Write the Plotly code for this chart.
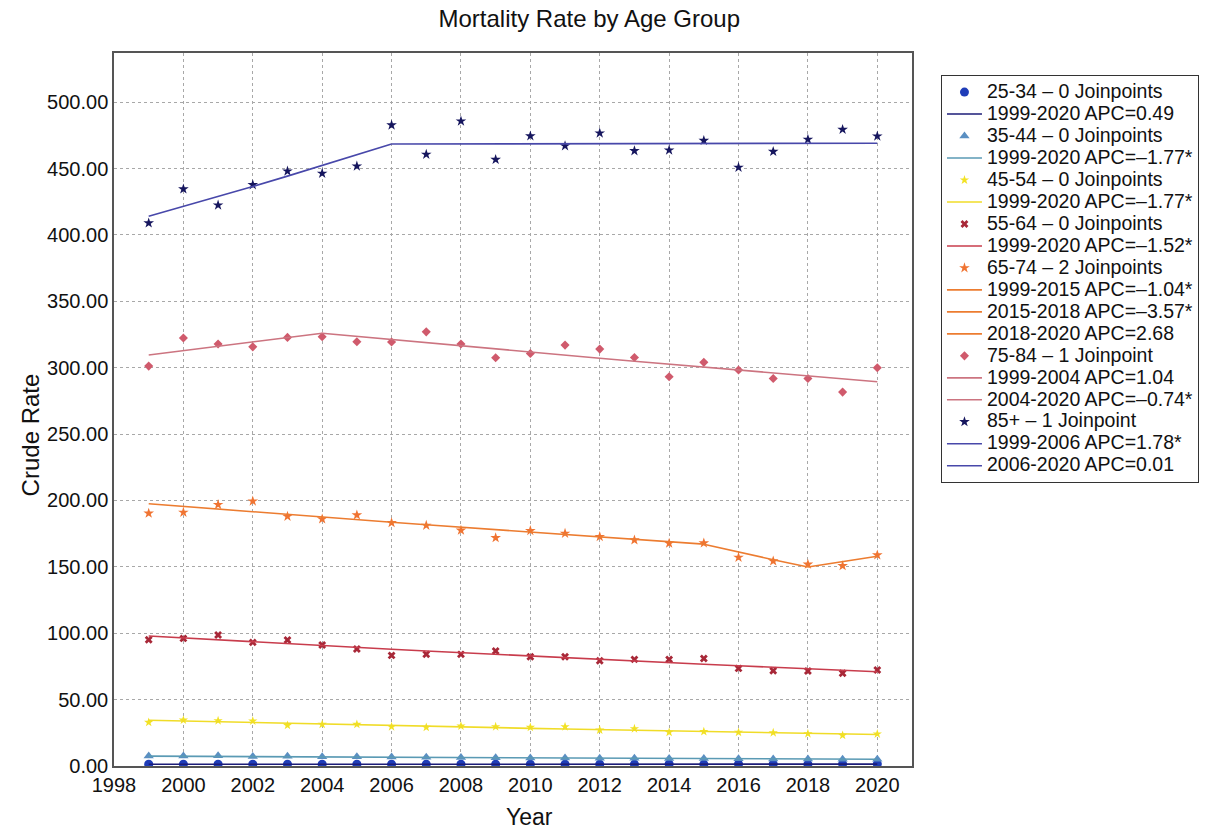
import plotly.graph_objects as go

# ---- observed crude mortality rates by age group ----
years = list(range(1999, 2021))

rate_25_34 = [1.3, 1.4, 1.3, 1.3, 1.4, 1.3, 1.3, 1.4, 1.4, 1.3, 1.4,
              1.4, 1.4, 1.4, 1.4, 1.5, 1.4, 1.5, 1.5, 1.4, 1.5, 1.5]
rate_35_44 = [7.6, 7.5, 7.7, 7.2, 7.3, 7.0, 6.9, 6.7, 6.5, 6.4, 6.2,
              6.1, 6.0, 5.8, 5.9, 5.6, 5.6, 5.4, 5.3, 5.2, 5.1, 5.0]
rate_45_54 = [32.9, 34.6, 34.1, 33.9, 30.6, 31.4, 31.4, 29.6, 29.1, 30.1, 29.6,
              29.1, 29.6, 27.1, 28.1, 25.4, 25.9, 25.4, 25.1, 24.3, 23.1, 24.1]
rate_55_64 = [95.1, 96.1, 98.6, 93.1, 94.9, 91.1, 88.1, 83.3, 84.1, 84.1, 86.6,
              82.3, 82.3, 79.3, 80.3, 80.3, 81.0, 73.5, 71.8, 71.5, 69.8, 72.3]
rate_65_74 = [190.3, 191.0, 196.8, 199.5, 188.0, 186.0, 189.0, 183.2, 181.2, 177.5, 171.9,
              177.2, 175.2, 172.7, 170.2, 167.7, 167.9, 157.1, 154.4, 151.9, 150.8, 158.9]
rate_75_84 = [301.2, 322.3, 317.8, 315.7, 322.8, 323.3, 319.5, 319.3, 327.0, 317.8, 307.5,
              310.7, 317.0, 314.0, 307.7, 293.2, 304.0, 298.2, 291.9, 291.9, 281.6, 300.0]
rate_85p = [408.9, 434.5, 422.4, 437.7, 448.0, 446.3, 451.8, 482.7, 460.6, 485.7, 456.8,
            474.5, 467.0, 476.6, 463.3, 463.8, 471.1, 450.8, 462.8, 471.9, 479.4, 474.4]

# ---- joinpoint fits: fitted 1999 value plus segments (start, end, APC) ----
fit0_25_34 = 1.3
seg_25_34 = [(1999, 2020, 0.49, "1999-2020 APC=0.49")]
fit0_35_44 = 7.4
seg_35_44 = [(1999, 2020, -1.77, "1999-2020 APC=–1.77*")]
fit0_45_54 = 34.5
seg_45_54 = [(1999, 2020, -1.77, "1999-2020 APC=–1.77*")]
fit0_55_64 = 97.9
seg_55_64 = [(1999, 2020, -1.52, "1999-2020 APC=–1.52*")]
fit0_65_74 = 197.5
seg_65_74 = [(1999, 2015, -1.04, "1999-2015 APC=–1.04*"),
             (2015, 2018, -3.57, "2015-2018 APC=–3.57*"),
             (2018, 2020, 2.68, "2018-2020 APC=2.68")]
fit0_75_84 = 309.5
seg_75_84 = [(1999, 2004, 1.04, "1999-2004 APC=1.04"),
             (2004, 2020, -0.74, "2004-2020 APC=–0.74*")]
fit0_85p = 414.0
seg_85p = [(1999, 2006, 1.78, "1999-2006 APC=1.78*"),
           (2006, 2020, 0.01, "2006-2020 APC=0.01")]

groups = [
    ("25-34 – 0 Joinpoints", rate_25_34, fit0_25_34, seg_25_34,
     dict(symbol="circle", size=9, color="#1f3db8"), "#1c1c78"),
    ("35-44 – 0 Joinpoints", rate_35_44, fit0_35_44, seg_35_44,
     dict(symbol="triangle-up", size=9, color="#5a8fc2"), "#5a9ab4"),
    ("45-54 – 0 Joinpoints", rate_45_54, fit0_45_54, seg_45_54,
     dict(symbol="star", size=7, color="#f2e224"), "#f0dc28"),
    ("55-64 – 0 Joinpoints", rate_55_64, fit0_55_64, seg_55_64,
     dict(symbol="x", size=7, color="#a82838"), "#c83c4c"),
    ("65-74 – 2 Joinpoints", rate_65_74, fit0_65_74, seg_65_74,
     dict(symbol="star", size=8, color="#f07432"), "#ec7c30"),
    ("75-84 – 1 Joinpoint", rate_75_84, fit0_75_84, seg_75_84,
     dict(symbol="diamond", size=7, color="#d05a6c"), "#cc7480"),
    ("85+ – 1 Joinpoint", rate_85p, fit0_85p, seg_85p,
     dict(symbol="star", size=8, color="#16165e"), "#4848aa"),
]


def fitted(v0, segments, start, end):
    """Log-linear joinpoint fit evaluated on whole years from start to end."""
    out_x, out_y = [], []
    value = v0
    for s, e, apc, _ in segments:
        for yr in range(s, e + 1):
            if yr > s:
                value *= 1 + apc / 100.0
            if start <= yr <= end and (not out_x or out_x[-1] != yr):
                out_x.append(yr)
                out_y.append(value)
    return out_x, out_y


def legend_label(text):
    # larger glyphs than the legend's base size, which keeps rows compact
    return '<span style="font-size:19.5px">' + text + "</span>"


fig = go.Figure()
for name, rates, v0, segs, mk, lcol in groups:
    fig.add_trace(go.Scatter(x=years, y=rates, mode="markers",
                             name=legend_label(name), marker=mk))
    for s, e, apc, label in segs:
        fx, fy = fitted(v0, segs, s, e)
        fig.add_trace(go.Scatter(x=fx, y=fy, mode="lines",
                                 name=legend_label(label),
                                 line=dict(color=lcol, width=1.6)))

font_family = "Liberation Sans, Arial, Helvetica, sans-serif"

fig.update_layout(
    width=1205, height=829,
    margin=dict(l=114, r=293, t=53, b=63, autoexpand=False),
    paper_bgcolor="white", plot_bgcolor="white",
    font=dict(family=font_family, size=20, color="#111"),
    title=dict(text="Mortality Rate by Age Group", x=0.489, xanchor="center",
               y=0.978, yanchor="middle", yref="container",
               font=dict(size=24, color="#111")),
    legend=dict(x=1.0363, xanchor="left", y=0.969, yanchor="top",
                bordercolor="#333", borderwidth=1, bgcolor="white",
                font=dict(size=14.6), tracegroupgap=0, traceorder="normal",
                itemwidth=35),
    showlegend=True,
    annotations=[
        dict(text="Year", xref="paper", yref="paper", x=0.521, y=-0.0715,
             xanchor="center", yanchor="middle", showarrow=False,
             font=dict(size=23)),
        dict(text="Crude Rate", xref="paper", yref="paper", x=-0.105, y=0.464,
             xanchor="center", yanchor="middle", showarrow=False,
             textangle=-90, font=dict(size=24)),
    ],
)

fig.update_xaxes(
    range=[1998, 2021], tick0=1998, dtick=2, ticks="",
    showline=True, linecolor="#555", linewidth=1.5, mirror=True,
    showgrid=True, gridcolor="#a8a8a8", griddash="dot", gridwidth=1,
    zeroline=False, tickfont=dict(size=20),
)
fig.update_yaxes(
    range=[0, 537], tick0=0, dtick=50, tickformat=".2f", ticks="",
    showline=True, linecolor="#555", linewidth=1.5, mirror=True,
    showgrid=True, gridcolor="#a8a8a8", griddash="dot", gridwidth=1,
    zeroline=False, tickfont=dict(size=20),
)

fig.write_html("out.html")
